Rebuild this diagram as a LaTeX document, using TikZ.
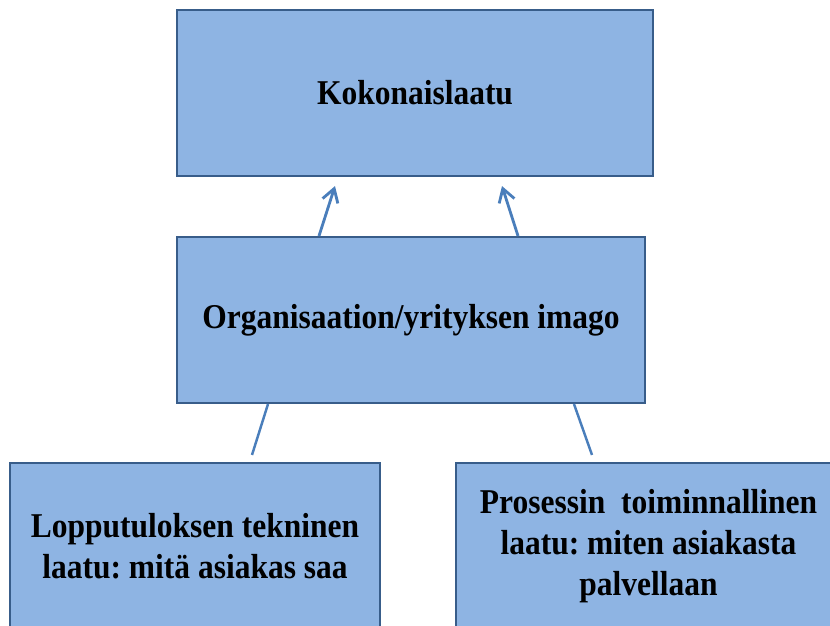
\documentclass[tikz,border=0pt]{standalone}
\usepackage{fontspec}
\setmainfont[FakeStretch=0.905]{Liberation Serif}
\usepackage{tikz}
\usetikzlibrary{arrows.meta}
\definecolor{boxfill}{RGB}{142,180,227}
\definecolor{boxline}{RGB}{56,93,138}
\definecolor{arrowblue}{RGB}{74,126,187}
\frenchspacing

\begin{document}
\begin{tikzpicture}[
  laatikko/.style={draw=boxline, line width=1.2pt, fill=boxfill, minimum height=3.32cm,
    align=center, font=\fontsize{19.8}{23.2}\selectfont\bfseries, inner sep=0pt},
  nuoli/.style={arrowblue, line width=1.6pt, -{Straight Barb[length=2.6mm,width=3.2mm,line width=1.6pt]}},
  viiva/.style={arrowblue, line width=1.4pt}]
\useasboundingbox (0,0) rectangle (16.6,12.5);
\clip (0,0) rectangle (16.6,12.5);
\node [laatikko, minimum width=9.52cm] (koko) at (8.3,10.64) {Kokonaislaatu};
\node [laatikko, minimum width=9.36cm] (imago) at (8.22,6.1) {Organisaation/yrityksen imago};
\node [laatikko, minimum width=7.4cm] (tekninen) at (3.9,1.58) {Lopputuloksen tekninen\\laatu: mitä asiakas saa};
\node [laatikko, minimum width=7.7cm] (toiminnallinen) at (12.97,1.58) {Prosessin\ \ toiminnallinen\\laatu: miten asiakasta\\palvellaan};
\draw [nuoli] ([xshift=-1.84cm]imago.north) -- ([xshift=-1.6cm,yshift=-0.18cm]koko.south);
\draw [nuoli] ([xshift=2.14cm]imago.north) -- ([xshift=1.74cm,yshift=-0.18cm]koko.south);
\draw [viiva] ([xshift=1.14cm,yshift=0.14cm]tekninen.north) -- ([xshift=-2.86cm]imago.south);
\draw [viiva] ([xshift=-1.13cm,yshift=0.14cm]toiminnallinen.north) -- ([xshift=3.26cm]imago.south);
\end{tikzpicture}
\end{document}
